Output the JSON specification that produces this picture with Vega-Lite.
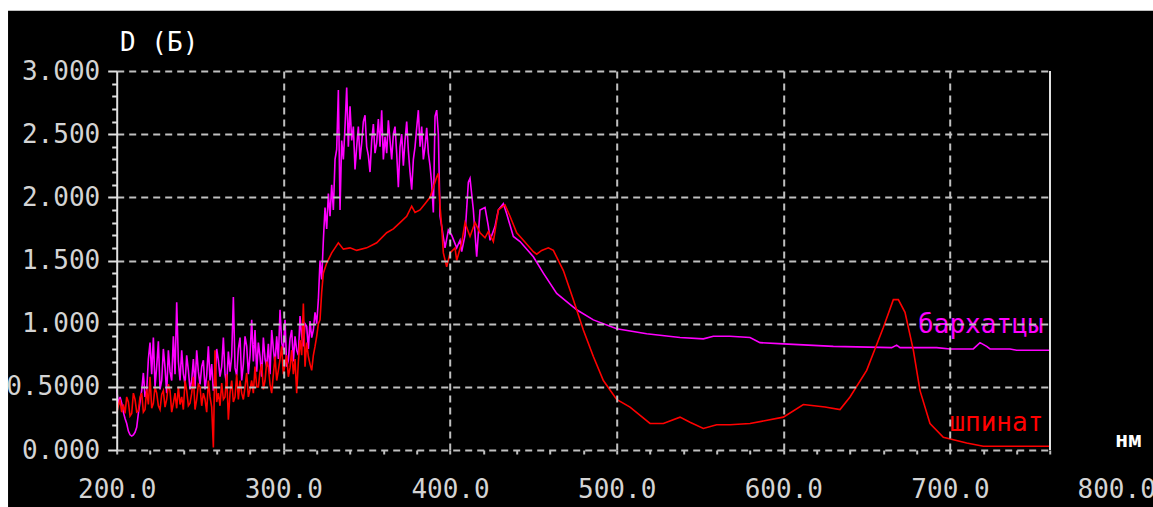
{
  "$schema": "https://vega.github.io/schema/vega-lite/v6.json",
  "width": 933.3,
  "height": 379,
  "autosize": {"type": "none"},
  "padding": {"left": 116.7, "top": 71, "right": 103, "bottom": 57},
  "background": "white",
  "config": {"view": {"stroke": null}},
  "datasets": {
    "bark": [
      {"nm":200,"D":0.48},{"nm":201,"D":0.36},{"nm":202,"D":0.42},{"nm":203,"D":0.37},{"nm":204,"D":0.3},{"nm":205,"D":0.25},{"nm":206,"D":0.21},{"nm":207,"D":0.15},{"nm":208,"D":0.12},{"nm":209,"D":0.11},{"nm":210,"D":0.12},{"nm":211,"D":0.14},{"nm":212,"D":0.18},{"nm":213,"D":0.29},{"nm":214,"D":0.38},{"nm":215,"D":0.47},{"nm":216,"D":0.61},{"nm":217,"D":0.42},{"nm":218,"D":0.47},{"nm":219,"D":0.72},{"nm":220,"D":0.85},{"nm":221,"D":0.6},{"nm":222,"D":0.89},{"nm":223,"D":0.5},{"nm":224,"D":0.66},{"nm":225,"D":0.86},{"nm":226,"D":0.48},{"nm":227,"D":0.55},{"nm":228,"D":0.8},{"nm":229,"D":0.65},{"nm":230,"D":0.45},{"nm":231,"D":0.79},{"nm":232,"D":0.62},{"nm":233,"D":0.55},{"nm":234,"D":0.9},{"nm":235,"D":0.6},{"nm":236,"D":1.17},{"nm":237,"D":0.7},{"nm":238,"D":0.55},{"nm":239,"D":0.79},{"nm":240,"D":0.6},{"nm":241,"D":0.52},{"nm":242,"D":0.75},{"nm":243,"D":0.63},{"nm":244,"D":0.48},{"nm":245,"D":0.55},{"nm":246,"D":0.72},{"nm":247,"D":0.5},{"nm":248,"D":0.79},{"nm":249,"D":0.62},{"nm":250,"D":0.52},{"nm":251,"D":0.66},{"nm":252,"D":0.71},{"nm":253,"D":0.48},{"nm":254,"D":0.59},{"nm":255,"D":0.82},{"nm":256,"D":0.55},{"nm":257,"D":0.68},{"nm":258,"D":0.47},{"nm":259,"D":0.53},{"nm":260,"D":0.8},{"nm":261,"D":0.71},{"nm":262,"D":0.58},{"nm":263,"D":0.66},{"nm":264,"D":0.89},{"nm":265,"D":0.6},{"nm":266,"D":0.52},{"nm":267,"D":0.78},{"nm":268,"D":0.62},{"nm":269,"D":0.74},{"nm":270,"D":1.21},{"nm":271,"D":0.65},{"nm":272,"D":0.59},{"nm":273,"D":0.8},{"nm":274,"D":0.89},{"nm":275,"D":0.55},{"nm":276,"D":0.68},{"nm":277,"D":0.9},{"nm":278,"D":0.82},{"nm":279,"D":0.6},{"nm":280,"D":0.75},{"nm":281,"D":1.03},{"nm":282,"D":0.7},{"nm":283,"D":0.95},{"nm":284,"D":0.62},{"nm":285,"D":0.85},{"nm":286,"D":0.74},{"nm":287,"D":0.58},{"nm":288,"D":0.89},{"nm":289,"D":0.72},{"nm":290,"D":0.66},{"nm":291,"D":0.84},{"nm":292,"D":0.6},{"nm":293,"D":0.95},{"nm":294,"D":0.8},{"nm":295,"D":0.68},{"nm":296,"D":0.9},{"nm":297,"D":0.72},{"nm":298,"D":1.11},{"nm":299,"D":0.85},{"nm":300,"D":0.79},{"nm":301,"D":1.03},{"nm":302,"D":0.66},{"nm":303,"D":0.71},{"nm":304,"D":0.88},{"nm":305,"D":0.95},{"nm":306,"D":0.7},{"nm":307,"D":0.9},{"nm":308,"D":0.79},{"nm":309,"D":0.75},{"nm":310,"D":1.06},{"nm":311,"D":0.9},{"nm":312,"D":0.82},{"nm":313,"D":1.0},{"nm":314,"D":0.98},{"nm":315,"D":0.8},{"nm":316,"D":1.02},{"nm":317,"D":0.89},{"nm":318,"D":0.95},{"nm":319,"D":1.09},{"nm":320,"D":1.0},{"nm":321,"D":1.19},{"nm":322,"D":1.5},{"nm":323,"D":1.35},{"nm":324,"D":1.66},{"nm":325,"D":1.92},{"nm":326,"D":1.75},{"nm":327,"D":2.03},{"nm":328,"D":1.85},{"nm":329,"D":2.1},{"nm":330,"D":1.9},{"nm":331,"D":2.3},{"nm":332,"D":2.38},{"nm":333,"D":2.85},{"nm":334,"D":1.9},{"nm":335,"D":2.45},{"nm":336,"D":2.3},{"nm":337,"D":2.56},{"nm":338,"D":2.87},{"nm":339,"D":2.4},{"nm":340,"D":2.72},{"nm":341,"D":2.45},{"nm":342,"D":2.56},{"nm":343,"D":2.22},{"nm":344,"D":2.4},{"nm":345,"D":2.56},{"nm":346,"D":2.3},{"nm":347,"D":2.43},{"nm":348,"D":2.6},{"nm":349,"D":2.65},{"nm":350,"D":2.4},{"nm":351,"D":2.33},{"nm":352,"D":2.2},{"nm":353,"D":2.45},{"nm":354,"D":2.58},{"nm":355,"D":2.35},{"nm":356,"D":2.43},{"nm":357,"D":2.62},{"nm":358,"D":2.4},{"nm":359,"D":2.69},{"nm":360,"D":2.3},{"nm":361,"D":2.48},{"nm":362,"D":2.35},{"nm":363,"D":2.61},{"nm":364,"D":2.45},{"nm":365,"D":2.3},{"nm":366,"D":2.5},{"nm":367,"D":2.56},{"nm":368,"D":2.35},{"nm":369,"D":2.08},{"nm":370,"D":2.4},{"nm":371,"D":2.5},{"nm":372,"D":2.25},{"nm":373,"D":2.45},{"nm":374,"D":2.6},{"nm":375,"D":2.37},{"nm":376,"D":2.2},{"nm":377,"D":2.06},{"nm":378,"D":2.3},{"nm":379,"D":2.4},{"nm":380,"D":2.55},{"nm":381,"D":2.69},{"nm":382,"D":2.4},{"nm":383,"D":2.56},{"nm":384,"D":2.3},{"nm":385,"D":2.4},{"nm":386,"D":2.55},{"nm":387,"D":2.35},{"nm":388,"D":2.25},{"nm":389,"D":2.11},{"nm":390,"D":1.88},{"nm":391,"D":2.64},{"nm":392,"D":2.69},{"nm":393,"D":2.5},{"nm":394,"D":1.85},{"nm":395,"D":1.77},{"nm":397,"D":1.6},{"nm":399,"D":1.74},{"nm":401,"D":1.7},{"nm":404,"D":1.6},{"nm":406,"D":1.66},{"nm":407,"D":1.57},{"nm":409,"D":1.7},{"nm":411,"D":2.12},{"nm":412,"D":2.15},{"nm":414,"D":1.9},{"nm":416,"D":1.53},{"nm":418,"D":1.9},{"nm":421,"D":1.92},{"nm":423,"D":1.77},{"nm":424,"D":1.66},{"nm":427,"D":1.77},{"nm":429,"D":1.9},{"nm":432,"D":1.95},{"nm":434,"D":1.87},{"nm":438,"D":1.69},{"nm":442,"D":1.65},{"nm":450,"D":1.53},{"nm":456,"D":1.4},{"nm":464,"D":1.24},{"nm":476,"D":1.11},{"nm":486,"D":1.03},{"nm":500,"D":0.96},{"nm":518,"D":0.92},{"nm":538,"D":0.89},{"nm":552,"D":0.88},{"nm":558,"D":0.9},{"nm":568,"D":0.9},{"nm":580,"D":0.89},{"nm":586,"D":0.85},{"nm":600,"D":0.84},{"nm":630,"D":0.82},{"nm":665,"D":0.81},{"nm":668,"D":0.83},{"nm":670,"D":0.81},{"nm":692,"D":0.81},{"nm":700,"D":0.8},{"nm":714,"D":0.8},{"nm":718,"D":0.85},{"nm":722,"D":0.82},{"nm":724,"D":0.8},{"nm":736,"D":0.8},{"nm":740,"D":0.79},{"nm":760,"D":0.79}
    ],
    "spin": [
      {"nm":200,"D":0.29},{"nm":201,"D":0.35},{"nm":202,"D":0.4},{"nm":203,"D":0.3},{"nm":204,"D":0.36},{"nm":205,"D":0.29},{"nm":206,"D":0.42},{"nm":207,"D":0.38},{"nm":208,"D":0.27},{"nm":209,"D":0.29},{"nm":210,"D":0.45},{"nm":211,"D":0.4},{"nm":212,"D":0.3},{"nm":213,"D":0.31},{"nm":214,"D":0.42},{"nm":215,"D":0.45},{"nm":216,"D":0.3},{"nm":217,"D":0.32},{"nm":218,"D":0.48},{"nm":219,"D":0.36},{"nm":220,"D":0.58},{"nm":221,"D":0.33},{"nm":222,"D":0.37},{"nm":223,"D":0.5},{"nm":224,"D":0.45},{"nm":225,"D":0.35},{"nm":226,"D":0.32},{"nm":227,"D":0.44},{"nm":228,"D":0.47},{"nm":229,"D":0.34},{"nm":230,"D":0.4},{"nm":231,"D":0.52},{"nm":232,"D":0.47},{"nm":233,"D":0.3},{"nm":234,"D":0.37},{"nm":235,"D":0.45},{"nm":236,"D":0.33},{"nm":237,"D":0.5},{"nm":238,"D":0.36},{"nm":239,"D":0.42},{"nm":240,"D":0.32},{"nm":241,"D":0.55},{"nm":242,"D":0.47},{"nm":243,"D":0.35},{"nm":244,"D":0.37},{"nm":245,"D":0.45},{"nm":246,"D":0.58},{"nm":247,"D":0.32},{"nm":248,"D":0.4},{"nm":249,"D":0.52},{"nm":250,"D":0.5},{"nm":251,"D":0.35},{"nm":252,"D":0.45},{"nm":253,"D":0.4},{"nm":254,"D":0.3},{"nm":255,"D":0.55},{"nm":256,"D":0.42},{"nm":257,"D":0.34},{"nm":258,"D":0.02},{"nm":259,"D":0.79},{"nm":260,"D":0.38},{"nm":261,"D":0.45},{"nm":262,"D":0.35},{"nm":263,"D":0.53},{"nm":264,"D":0.4},{"nm":265,"D":0.42},{"nm":266,"D":0.6},{"nm":267,"D":0.24},{"nm":268,"D":0.45},{"nm":269,"D":0.55},{"nm":270,"D":0.38},{"nm":271,"D":0.42},{"nm":272,"D":0.6},{"nm":273,"D":0.4},{"nm":274,"D":0.55},{"nm":275,"D":0.45},{"nm":276,"D":0.4},{"nm":277,"D":0.5},{"nm":278,"D":0.61},{"nm":279,"D":0.42},{"nm":280,"D":0.48},{"nm":281,"D":0.55},{"nm":282,"D":0.45},{"nm":283,"D":0.66},{"nm":284,"D":0.5},{"nm":285,"D":0.5},{"nm":286,"D":0.62},{"nm":287,"D":0.68},{"nm":288,"D":0.48},{"nm":289,"D":0.55},{"nm":290,"D":0.7},{"nm":291,"D":0.66},{"nm":292,"D":0.52},{"nm":293,"D":0.45},{"nm":294,"D":0.6},{"nm":295,"D":0.74},{"nm":296,"D":0.55},{"nm":297,"D":0.63},{"nm":298,"D":0.72},{"nm":299,"D":0.82},{"nm":300,"D":0.6},{"nm":301,"D":0.68},{"nm":302,"D":0.75},{"nm":303,"D":0.58},{"nm":304,"D":0.65},{"nm":305,"D":0.79},{"nm":306,"D":0.6},{"nm":307,"D":0.72},{"nm":308,"D":0.45},{"nm":309,"D":0.7},{"nm":310,"D":0.87},{"nm":311,"D":0.75},{"nm":312,"D":1.16},{"nm":313,"D":0.66},{"nm":314,"D":0.85},{"nm":315,"D":0.74},{"nm":316,"D":0.68},{"nm":317,"D":0.63},{"nm":318,"D":0.75},{"nm":319,"D":0.82},{"nm":320,"D":0.9},{"nm":321,"D":1.0},{"nm":322,"D":1.03},{"nm":323,"D":1.25},{"nm":324,"D":1.4},{"nm":326,"D":1.48},{"nm":329,"D":1.56},{"nm":331,"D":1.6},{"nm":333,"D":1.64},{"nm":336,"D":1.59},{"nm":340,"D":1.6},{"nm":344,"D":1.58},{"nm":350,"D":1.6},{"nm":356,"D":1.64},{"nm":362,"D":1.72},{"nm":366,"D":1.75},{"nm":370,"D":1.8},{"nm":374,"D":1.85},{"nm":377,"D":1.93},{"nm":379,"D":1.88},{"nm":382,"D":1.9},{"nm":385,"D":1.95},{"nm":388,"D":2.0},{"nm":390,"D":2.08},{"nm":392,"D":2.16},{"nm":393,"D":2.19},{"nm":394,"D":1.93},{"nm":395,"D":1.77},{"nm":396,"D":1.56},{"nm":398,"D":1.45},{"nm":400,"D":1.56},{"nm":403,"D":1.6},{"nm":404,"D":1.5},{"nm":407,"D":1.64},{"nm":409,"D":1.8},{"nm":412,"D":1.69},{"nm":415,"D":1.8},{"nm":418,"D":1.72},{"nm":421,"D":1.68},{"nm":423,"D":1.73},{"nm":426,"D":1.65},{"nm":429,"D":1.9},{"nm":433,"D":1.94},{"nm":436,"D":1.85},{"nm":440,"D":1.72},{"nm":444,"D":1.66},{"nm":450,"D":1.57},{"nm":452,"D":1.55},{"nm":455,"D":1.58},{"nm":459,"D":1.6},{"nm":462,"D":1.58},{"nm":468,"D":1.42},{"nm":474,"D":1.19},{"nm":480,"D":0.95},{"nm":486,"D":0.74},{"nm":492,"D":0.55},{"nm":500,"D":0.4},{"nm":508,"D":0.34},{"nm":520,"D":0.21},{"nm":528,"D":0.21},{"nm":538,"D":0.26},{"nm":544,"D":0.22},{"nm":552,"D":0.17},{"nm":560,"D":0.2},{"nm":568,"D":0.2},{"nm":580,"D":0.21},{"nm":600,"D":0.26},{"nm":612,"D":0.36},{"nm":625,"D":0.34},{"nm":634,"D":0.32},{"nm":640,"D":0.42},{"nm":650,"D":0.63},{"nm":660,"D":0.97},{"nm":666,"D":1.19},{"nm":669,"D":1.19},{"nm":673,"D":1.09},{"nm":678,"D":0.79},{"nm":682,"D":0.47},{"nm":688,"D":0.21},{"nm":696,"D":0.1},{"nm":710,"D":0.055},{"nm":720,"D":0.03},{"nm":760,"D":0.03}
    ]
  },
  "layer": [
    {
      "data": {"values": [{}]},
      "mark": {"type": "rect", "color": "black", "clip": false},
      "encoding": {
        "x": {"datum": 134.8, "type": "quantitative",
          "scale": {"domain": [200, 760], "nice": false, "zero": false},
          "axis": {
            "title": null,
            "zindex": 1,
            "tickCount": 200,
            "values": [200,220,240,260,280,300,320,340,360,380,400,420,440,460,480,500,520,540,560,580,600,620,640,660,680,700,720,740,760],
            "domain": false,
            "grid": true,
            "gridColor": "#c0c0c0",
            "gridWidth": 2,
            "gridDash": [7, 5],
            "gridOpacity": {"condition": {"test": "datum.value >= 300 && datum.value <= 700 && datum.value % 100 == 0", "value": 1}, "value": 0},
            "ticks": true,
            "tickColor": "#c0c0c0",
            "tickWidth": 2,
            "tickSize": 4,
            "labelExpr": "datum.value % 100 == 0 ? format(datum.value, '.1f') : ''",
            "labelFont": "DejaVu Sans Mono",
            "labelFontSize": 26,
            "labelColor": "#d4d4d4",
            "labelPadding": 22,
            "labelBaseline": "top",
            "labelAlign": "center",
            "labelOverlap": false,
            "labelBound": false,
            "labelFlush": false
          }
        },
        "x2": {"datum": 830},
        "y": {"datum": 3.476, "type": "quantitative",
          "scale": {"domain": [0, 3], "nice": false, "zero": true},
          "axis": {
            "title": null,
            "zindex": 1,
            "tickCount": 200,
            "values": [0,0.1,0.2,0.3,0.4,0.5,0.6,0.7,0.8,0.9,1.0,1.1,1.2,1.3,1.4,1.5,1.6,1.7,1.8,1.9,2.0,2.1,2.2,2.3,2.4,2.5,2.6,2.7,2.8,2.9,3.0],
            "domain": true,
            "domainColor": "#e0e0e0",
            "domainWidth": 2,
            "grid": true,
            "gridColor": "#c0c0c0",
            "gridWidth": 2,
            "gridDash": [7, 5],
            "gridOpacity": {"condition": {"test": "abs(datum.value*2 - round(datum.value*2)) < 0.001", "value": 1}, "value": 0},
            "tickColor": "#e0e0e0",
            "tickWidth": 2,
            "tickSize": {"condition": {"test": "abs(datum.value*2 - round(datum.value*2)) < 0.001", "value": 9}, "value": 5},
            "labelExpr": "abs(datum.value*2 - round(datum.value*2)) < 0.001 ? (abs(datum.value - 0.5) < 0.001 ? '0.5000' : format(datum.value, '.3f')) : ''",
            "labelFont": "DejaVu Sans Mono",
            "labelFontSize": 26,
            "labelColor": "#d4d4d4",
            "labelPadding": 8,
            "labelBaseline": "middle",
            "labelAlign": "right",
            "labelOverlap": false,
            "labelBound": false,
            "labelFlush": false
          }
        },
        "y2": {"datum": -0.6}
      }
    },
    {
      "data": {"name": "bark"},
      "mark": {"type": "line", "color": "#ff00ff", "strokeWidth": 1.6},
      "encoding": {
        "x": {"field": "nm", "type": "quantitative"},
        "y": {"field": "D", "type": "quantitative"}
      }
    },
    {
      "data": {"name": "spin"},
      "mark": {"type": "line", "color": "#ff0000", "strokeWidth": 1.6},
      "encoding": {
        "x": {"field": "nm", "type": "quantitative"},
        "y": {"field": "D", "type": "quantitative"}
      }
    },
    {
      "data": {"values": [{}]},
      "mark": {"type": "rule", "color": "#e0e0e0", "strokeWidth": 2},
      "encoding": {
        "x": {"datum": 760, "type": "quantitative"},
        "y": {"datum": 0, "type": "quantitative"},
        "y2": {"datum": 3}
      }
    },
    {
      "data": {"values": [{}]},
      "mark": {"type": "text", "text": "D (Б)", "font": "DejaVu Sans Mono", "fontSize": 26, "color": "white", "align": "left", "baseline": "middle", "clip": false},
      "encoding": {
        "x": {"datum": 202, "type": "quantitative"},
        "y": {"datum": 3.22, "type": "quantitative"}
      }
    },
    {
      "data": {"values": [{}]},
      "mark": {"type": "text", "text": "бархатцы", "font": "DejaVu Sans Mono", "fontSize": 26, "color": "#ff00ff", "align": "right", "baseline": "middle"},
      "encoding": {
        "x": {"datum": 756, "type": "quantitative"},
        "y": {"datum": 0.99, "type": "quantitative"}
      }
    },
    {
      "data": {"values": [{}]},
      "mark": {"type": "text", "text": "шпинат", "font": "DejaVu Sans Mono", "fontSize": 26, "color": "#ff0000", "align": "right", "baseline": "middle"},
      "encoding": {
        "x": {"datum": 756, "type": "quantitative"},
        "y": {"datum": 0.21, "type": "quantitative"}
      }
    },
    {
      "data": {"values": [{}]},
      "mark": {"type": "text", "text": "нм", "font": "DejaVu Sans Mono", "fontSize": 22, "fontWeight": "bold", "color": "white", "align": "center", "baseline": "middle", "clip": false},
      "encoding": {
        "x": {"datum": 807, "type": "quantitative"},
        "y": {"datum": 0.08, "type": "quantitative"}
      }
    },
    {
      "data": {"values": [{}]},
      "mark": {"type": "text", "text": "800.0", "font": "DejaVu Sans Mono", "fontSize": 26, "color": "#d4d4d4", "align": "center", "baseline": "middle", "clip": false},
      "encoding": {
        "x": {"datum": 800, "type": "quantitative"},
        "y": {"datum": -0.32, "type": "quantitative"}
      }
    }
  ]
}
